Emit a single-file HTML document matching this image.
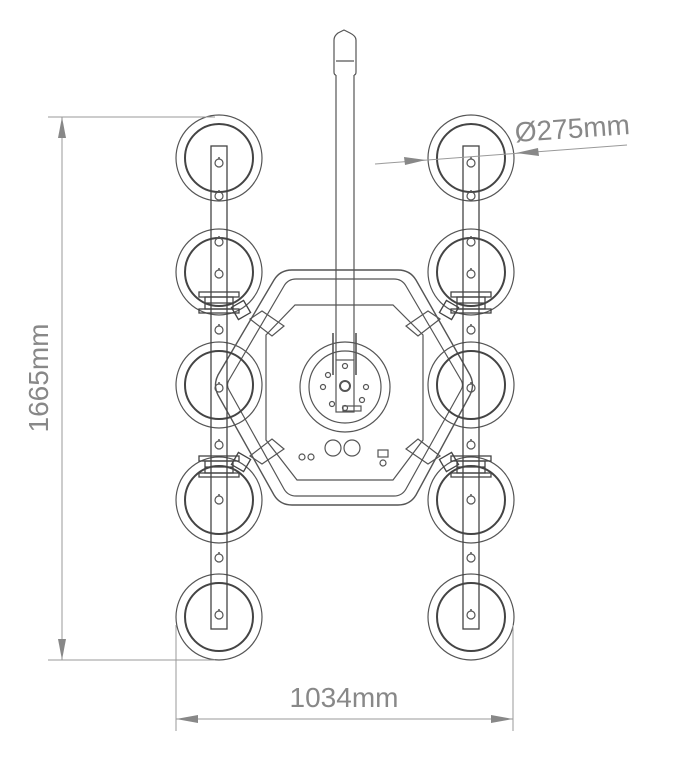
<!DOCTYPE html>
<html><head><style>body{margin:0;background:#fff}svg{display:block}</style></head><body>
<svg width="690" height="772" viewBox="0 0 690 772" xmlns="http://www.w3.org/2000/svg">
<defs>
<g id="cup">
<circle r="43" fill="none" stroke="#555" stroke-width="1.2"/>
<circle r="34" fill="none" stroke="#444" stroke-width="2"/>
</g>
<g id="hole">
<circle r="4" fill="none" stroke="#555" stroke-width="1.2"/>
<line x1="0" y1="-4" x2="0" y2="-6" stroke="#555" stroke-width="1.5"/>
</g>
<g id="clamp" stroke="#444" fill="none" stroke-width="1.3">
<rect x="-20" y="-6" width="40" height="5"/>
<rect x="-14" y="-1" width="28" height="12"/>
<line x1="-14" y1="5" x2="14" y2="5"/>
<rect x="-20" y="11" width="40" height="4"/>
</g>
<g id="strut" fill="none" stroke="#555" stroke-width="1.2">
<polygon points="250,319 262,311 284,326 272,336"/>
</g>
</defs>
<g fill="none" stroke="#555" stroke-width="1.2">
<path d="M292 270 L398 270 Q410 270 416 280 L470 375 Q475 385 470 395 L416 495 Q410 505 398 505 L292 505 Q280 505 274 495 L218 395 Q213 385 218 375 L274 280 Q280 270 292 270 Z" stroke-width="1.4"/>
<path d="M296 279 L394 279 Q402 279 406 286 L461 380 Q464 385 461 390 L406 489 Q402 496 394 496 L296 496 Q288 496 284 489 L229 390 Q226 385 229 380 L284 286 Q288 279 296 279 Z"/>
<path d="M295 305 L393 305 L423 335 L423 440 L393 480 L297 480 L266 440 L266 335 Z"/>
<use href="#strut"/>
<use href="#strut" transform="translate(690 0) scale(-1 1)"/>
<use href="#strut" transform="translate(0 775) scale(1 -1)"/>
<use href="#strut" transform="translate(690 775) scale(-1 -1)"/>
<circle cx="345" cy="387" r="45"/>
<circle cx="345" cy="387" r="36"/>
<circle cx="345" cy="386" r="5" stroke-width="2"/>
<circle cx="328" cy="375" r="2.5"/><circle cx="345" cy="366" r="2.5"/><circle cx="323" cy="387" r="2.5"/><circle cx="366" cy="387" r="2.5"/><circle cx="362" cy="400" r="2.5"/><circle cx="332" cy="404" r="2.5"/><circle cx="345" cy="408" r="2.5"/>
<rect x="336" y="360" width="18" height="52"/>
<path d="M333 333 V375 M356 333 V375" stroke-width="1.6"/>
<rect x="343" y="406" width="18" height="5"/>
<circle cx="333" cy="448" r="8"/><circle cx="352" cy="448" r="8"/>
<circle cx="302" cy="457" r="3"/><circle cx="311" cy="457" r="3"/>
<rect x="378" y="450" width="10" height="7"/><circle cx="383" cy="463" r="3"/>
<path d="M336 360 V75 M354 360 V75"/>
<path d="M334 72 V40 Q334 36 338 33 L344 30 L350 33 Q356 36 356 40 V72 Q356 75 354 75 M334 72 Q334 75 336 75"/>
<line x1="336" y1="61" x2="354" y2="61"/>
</g>
<g>
<use href="#cup" x="219" y="158"/><use href="#cup" x="219" y="272"/><use href="#cup" x="219" y="385"/><use href="#cup" x="219" y="500"/><use href="#cup" x="219" y="617"/>
<use href="#cup" x="471" y="158"/><use href="#cup" x="471" y="272"/><use href="#cup" x="471" y="385"/><use href="#cup" x="471" y="500"/><use href="#cup" x="471" y="617"/>
</g>
<g stroke="#444" stroke-width="1.3" fill="none">
<rect x="211" y="146" width="16" height="483"/>
<rect x="463" y="146" width="16" height="483"/>
</g>
<g>
<use href="#hole" x="219" y="163"/><use href="#hole" x="219" y="196"/><use href="#hole" x="219" y="242"/><use href="#hole" x="219" y="274"/><use href="#hole" x="219" y="330"/><use href="#hole" x="219" y="388"/><use href="#hole" x="219" y="445"/><use href="#hole" x="219" y="500"/><use href="#hole" x="219" y="558"/><use href="#hole" x="219" y="615"/>
<use href="#hole" x="471" y="163"/><use href="#hole" x="471" y="196"/><use href="#hole" x="471" y="242"/><use href="#hole" x="471" y="274"/><use href="#hole" x="471" y="330"/><use href="#hole" x="471" y="388"/><use href="#hole" x="471" y="445"/><use href="#hole" x="471" y="500"/><use href="#hole" x="471" y="558"/><use href="#hole" x="471" y="615"/>
<use href="#clamp" x="219" y="298"/><use href="#clamp" x="471" y="298"/><use href="#clamp" x="219" y="462"/><use href="#clamp" x="471" y="462"/>
</g>
<g fill="none" stroke="#444" stroke-width="1.3">
<rect x="234" y="303" width="14" height="14" transform="rotate(-30 241 310)"/>
<rect x="442" y="303" width="14" height="14" transform="rotate(30 449 310)"/>
<rect x="234" y="455" width="14" height="14" transform="rotate(30 241 462)"/>
<rect x="442" y="455" width="14" height="14" transform="rotate(-30 449 462)"/>
</g>
<g stroke="#999" stroke-width="1" fill="none">
<line x1="48" y1="117" x2="215" y2="117"/>
<line x1="48" y1="660" x2="215" y2="660"/>
<line x1="62" y1="117" x2="62" y2="660"/>
<line x1="176" y1="625" x2="176" y2="731"/>
<line x1="513" y1="625" x2="513" y2="731"/>
<line x1="176" y1="719" x2="513" y2="719"/>
<line x1="375" y1="164" x2="627" y2="145"/>
</g>
<g fill="#888">
<path d="M62 117 L58 138 L66 138 Z"/>
<path d="M62 660 L58 639 L66 639 Z"/>
<path d="M176 719 L198 715 L198 723 Z"/>
<path d="M513 719 L491 715 L491 723 Z"/>
<path d="M426 160 L404 157 L405 165 Z"/>
<path d="M516 153 L538 148 L539 156 Z"/>
</g>
<g fill="#888" font-family="Liberation Sans, sans-serif" font-size="28">
<text x="344" y="707" text-anchor="middle">1034mm</text>
<text x="0" y="0" text-anchor="middle" transform="translate(48 378) rotate(-90)">1665mm</text>
<text x="0" y="0" text-anchor="middle" transform="translate(573 138) rotate(-4)">Ø275mm</text>
</g>
</svg>
</body></html>
